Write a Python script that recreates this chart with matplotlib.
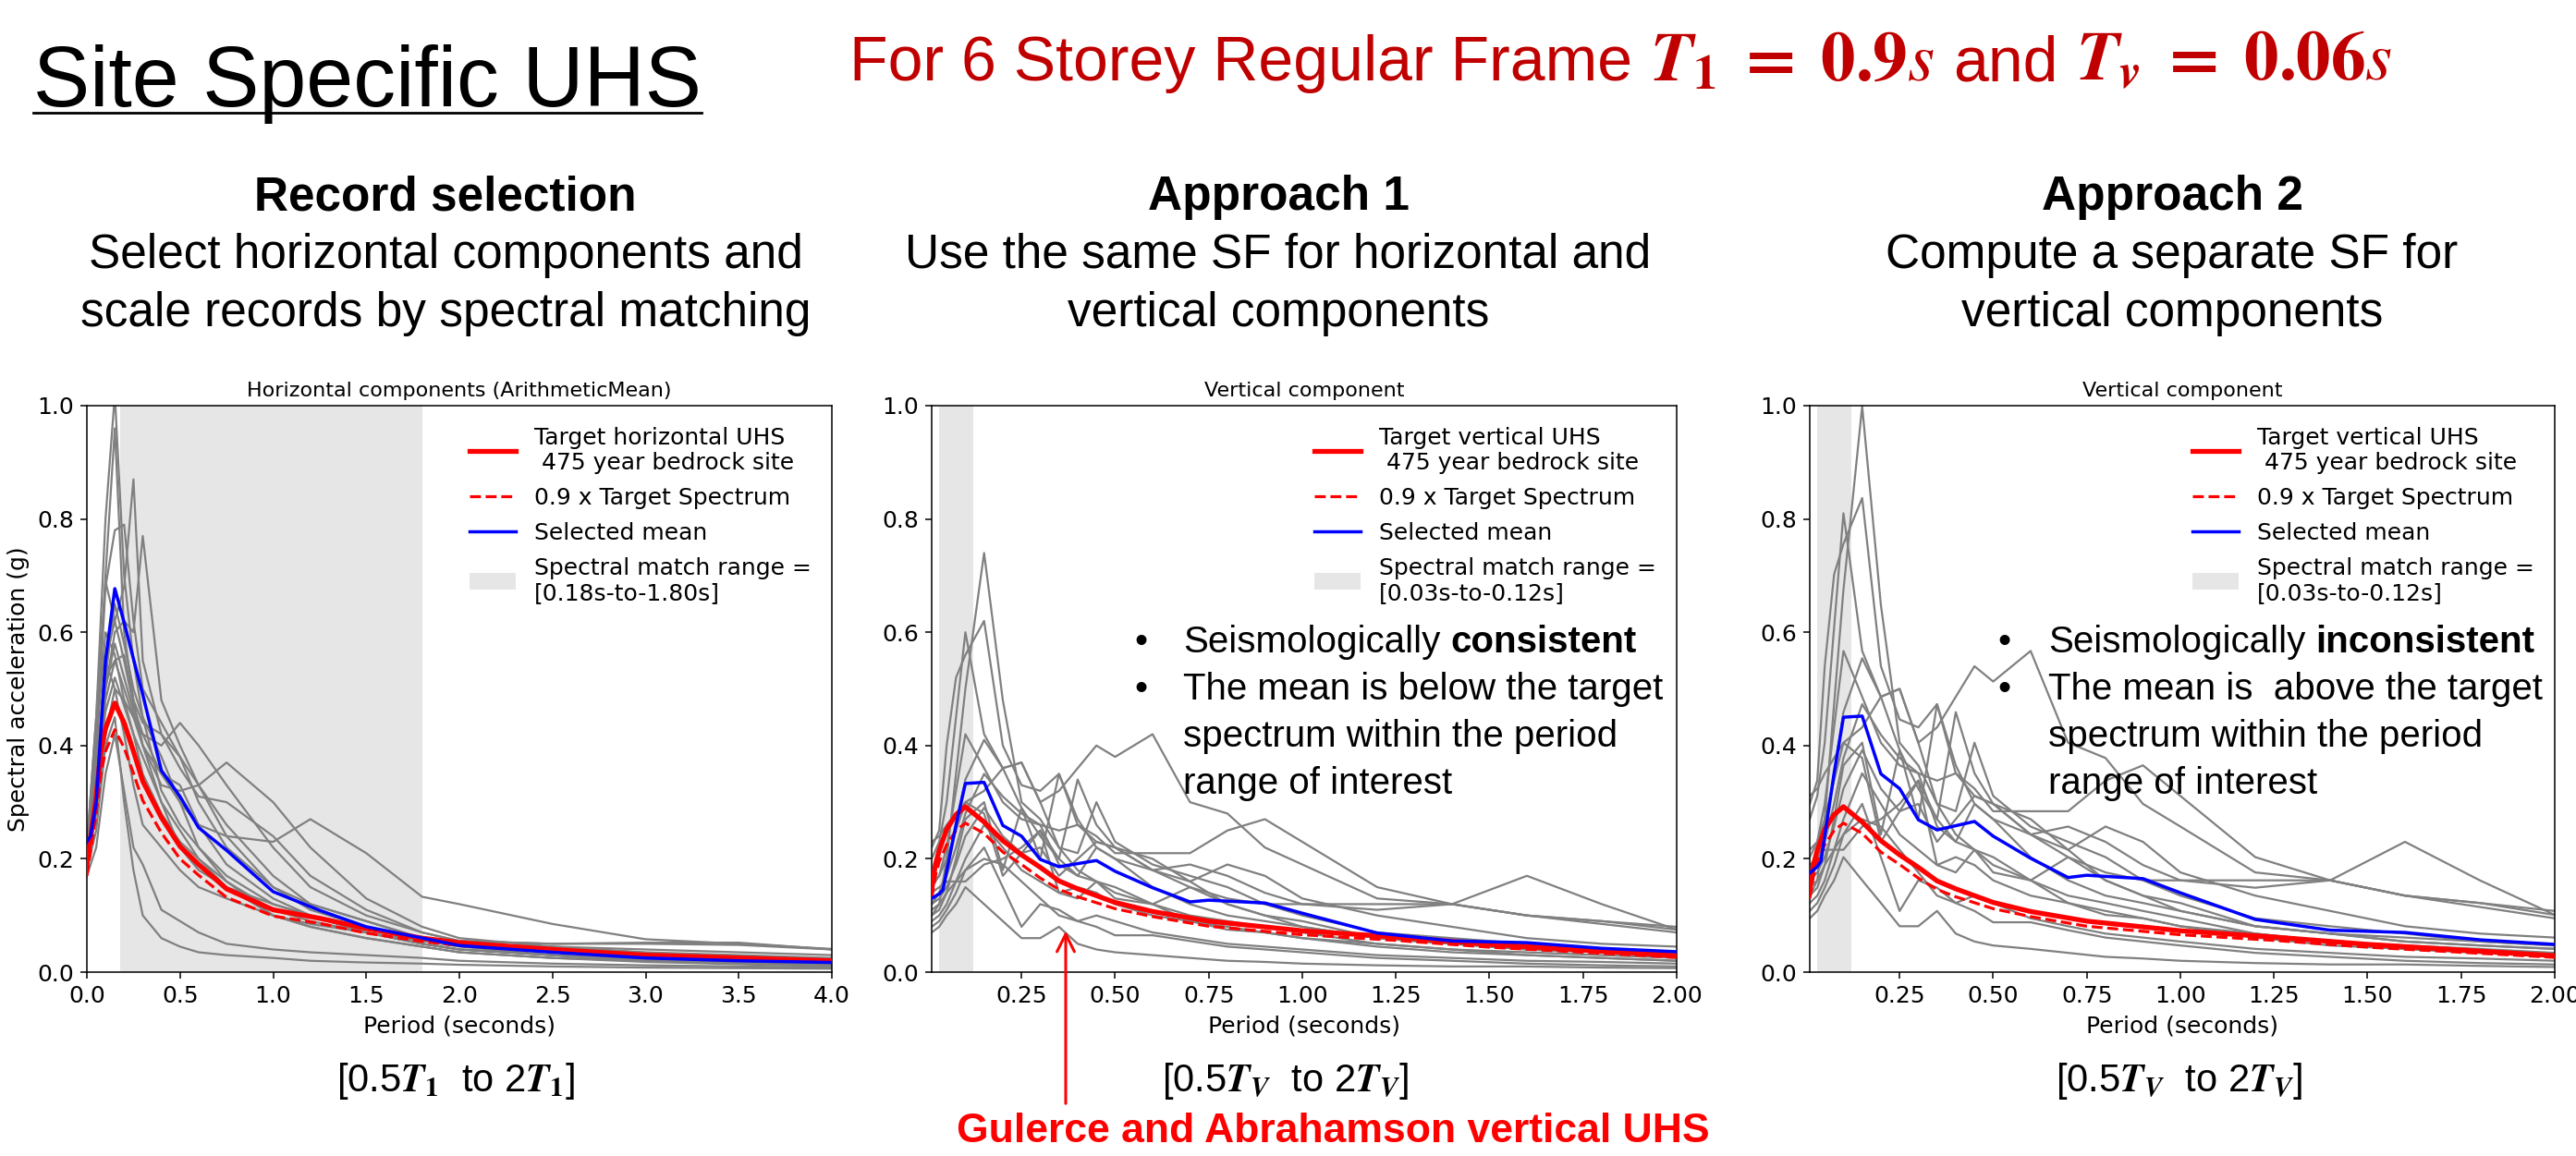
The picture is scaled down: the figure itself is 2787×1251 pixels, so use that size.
import matplotlib
matplotlib.use('Agg')
import matplotlib.pyplot as plt
from matplotlib.lines import Line2D
from matplotlib import mathtext

# ---------------- DATA ----------------
# Horizontal components (left panel)
TH = [0.0, 0.05, 0.1, 0.15, 0.2, 0.25, 0.3, 0.4, 0.5, 0.6, 0.75, 1.0, 1.2, 1.5, 1.8, 2.0, 2.5, 3.0, 3.5, 4.0]
H_RECORDS = [
    [0.22, 0.45, 0.80, 1.02, 0.70, 0.55, 0.45, 0.38, 0.30, 0.22, 0.17, 0.12, 0.10, 0.07, 0.05, 0.04, 0.03, 0.02, 0.016, 0.012],
    [0.20, 0.40, 0.70, 0.96, 0.60, 0.48, 0.40, 0.30, 0.25, 0.20, 0.15, 0.10, 0.08, 0.06, 0.045, 0.035, 0.025, 0.018, 0.014, 0.010],
    [0.21, 0.35, 0.55, 0.62, 0.68, 0.87, 0.55, 0.42, 0.38, 0.30, 0.22, 0.15, 0.11, 0.08, 0.055, 0.045, 0.03, 0.022, 0.017, 0.013],
    [0.19, 0.30, 0.50, 0.60, 0.62, 0.60, 0.77, 0.48, 0.40, 0.33, 0.26, 0.17, 0.12, 0.09, 0.06, 0.05, 0.035, 0.025, 0.02, 0.015],
    [0.20, 0.38, 0.68, 0.78, 0.79, 0.62, 0.50, 0.44, 0.38, 0.33, 0.24, 0.15, 0.12, 0.09, 0.06, 0.05, 0.035, 0.028, 0.022, 0.018],
    [0.22, 0.45, 0.69, 0.62, 0.55, 0.47, 0.42, 0.35, 0.33, 0.26, 0.19, 0.13, 0.10, 0.07, 0.05, 0.04, 0.03, 0.02, 0.015, 0.012],
    [0.18, 0.30, 0.48, 0.55, 0.50, 0.45, 0.42, 0.40, 0.44, 0.40, 0.33, 0.22, 0.15, 0.10, 0.07, 0.055, 0.04, 0.03, 0.025, 0.02],
    [0.20, 0.32, 0.50, 0.58, 0.52, 0.46, 0.40, 0.33, 0.32, 0.33, 0.37, 0.30, 0.22, 0.13, 0.08, 0.06, 0.045, 0.035, 0.03, 0.025],
    [0.19, 0.28, 0.42, 0.50, 0.48, 0.45, 0.40, 0.35, 0.30, 0.26, 0.24, 0.23, 0.27, 0.21, 0.133, 0.12, 0.085, 0.058, 0.05, 0.041],
    [0.21, 0.33, 0.52, 0.55, 0.56, 0.48, 0.44, 0.42, 0.36, 0.31, 0.30, 0.24, 0.17, 0.11, 0.07, 0.055, 0.05, 0.05, 0.048, 0.04],
    [0.18, 0.25, 0.40, 0.45, 0.30, 0.18, 0.10, 0.06, 0.045, 0.035, 0.03, 0.025, 0.02, 0.017, 0.015, 0.013, 0.01, 0.008, 0.007, 0.006],
    [0.17, 0.22, 0.35, 0.42, 0.32, 0.22, 0.19, 0.11, 0.09, 0.07, 0.05, 0.04, 0.035, 0.03, 0.025, 0.02, 0.015, 0.012, 0.01, 0.008],
    [0.20, 0.35, 0.55, 0.50, 0.42, 0.33, 0.26, 0.22, 0.18, 0.15, 0.13, 0.10, 0.085, 0.07, 0.055, 0.05, 0.045, 0.04, 0.035, 0.03],
    [0.22, 0.40, 0.60, 0.56, 0.48, 0.42, 0.38, 0.30, 0.22, 0.18, 0.15, 0.12, 0.10, 0.08, 0.06, 0.055, 0.05, 0.052, 0.052, 0.04],
    [0.19, 0.30, 0.52, 0.65, 0.58, 0.50, 0.45, 0.32, 0.26, 0.22, 0.16, 0.11, 0.09, 0.07, 0.05, 0.04, 0.03, 0.02, 0.015, 0.012],
    [0.21, 0.33, 0.46, 0.52, 0.47, 0.42, 0.35, 0.28, 0.23, 0.20, 0.16, 0.10, 0.08, 0.06, 0.045, 0.035, 0.025, 0.02, 0.016, 0.013],
]
TARGET_H_T = [0.0, 0.05, 0.075, 0.1, 0.15, 0.2, 0.25, 0.3, 0.4, 0.5, 0.6, 0.75, 1.0, 1.25, 1.5, 1.8, 2.0, 2.5, 3.0, 3.5, 4.0]
TARGET_H = [0.19, 0.31, 0.39, 0.43, 0.475, 0.44, 0.39, 0.337, 0.273, 0.222, 0.19, 0.147, 0.11, 0.095, 0.077, 0.06, 0.052, 0.04, 0.03, 0.025, 0.02]
TARGET_H_09 = [0.17, 0.28, 0.35, 0.39, 0.428, 0.396, 0.351, 0.303, 0.246, 0.20, 0.171, 0.132, 0.099, 0.086, 0.069, 0.054, 0.047, 0.036, 0.027, 0.022, 0.018]
MEAN_H_T = [0.0, 0.02, 0.05, 0.1, 0.15, 0.2, 0.25, 0.3, 0.4, 0.5, 0.6, 0.75, 1.0, 1.25, 1.5, 2.0, 2.5, 3.0, 3.5, 4.0]
MEAN_H = [0.23, 0.24, 0.30, 0.55, 0.677, 0.617, 0.553, 0.49, 0.356, 0.31, 0.255, 0.215, 0.142, 0.109, 0.08, 0.047, 0.035, 0.025, 0.02, 0.017]

# Vertical components (middle: Approach 1, right: Approach 2)
TV = [0.01, 0.03, 0.05, 0.075, 0.1, 0.15, 0.2, 0.25, 0.3, 0.35, 0.4, 0.45, 0.5, 0.6, 0.7, 0.8, 0.9, 1.0, 1.2, 1.4, 1.6, 1.8, 2.0]
V_RECORDS_A1 = [
    [0.10, 0.12, 0.20, 0.35, 0.50, 0.74, 0.48, 0.30, 0.27, 0.22, 0.18, 0.16, 0.14, 0.12, 0.09, 0.08, 0.07, 0.06, 0.05, 0.04, 0.035, 0.03, 0.025],
    [0.22, 0.25, 0.40, 0.52, 0.56, 0.62, 0.40, 0.33, 0.32, 0.35, 0.27, 0.22, 0.20, 0.15, 0.12, 0.10, 0.09, 0.08, 0.06, 0.05, 0.04, 0.035, 0.03],
    [0.20, 0.23, 0.30, 0.45, 0.60, 0.42, 0.36, 0.37, 0.30, 0.32, 0.36, 0.40, 0.38, 0.42, 0.30, 0.28, 0.22, 0.19, 0.13, 0.12, 0.10, 0.09, 0.075],
    [0.15, 0.17, 0.22, 0.32, 0.42, 0.36, 0.30, 0.27, 0.26, 0.25, 0.26, 0.24, 0.21, 0.21, 0.21, 0.25, 0.27, 0.23, 0.15, 0.12, 0.10, 0.085, 0.07],
    [0.12, 0.14, 0.18, 0.26, 0.34, 0.41, 0.36, 0.29, 0.24, 0.20, 0.34, 0.26, 0.22, 0.18, 0.15, 0.13, 0.12, 0.12, 0.12, 0.12, 0.17, 0.12, 0.075],
    [0.23, 0.24, 0.26, 0.28, 0.30, 0.32, 0.36, 0.37, 0.30, 0.22, 0.21, 0.30, 0.23, 0.19, 0.17, 0.15, 0.12, 0.10, 0.07, 0.06, 0.05, 0.04, 0.035],
    [0.10, 0.11, 0.14, 0.20, 0.27, 0.30, 0.18, 0.29, 0.20, 0.35, 0.26, 0.23, 0.22, 0.20, 0.16, 0.19, 0.17, 0.13, 0.10, 0.08, 0.06, 0.05, 0.045],
    [0.09, 0.10, 0.12, 0.16, 0.20, 0.26, 0.22, 0.18, 0.16, 0.14, 0.13, 0.16, 0.15, 0.12, 0.10, 0.09, 0.08, 0.07, 0.05, 0.04, 0.03, 0.025, 0.02],
    [0.14, 0.15, 0.16, 0.16, 0.16, 0.19, 0.20, 0.22, 0.25, 0.20, 0.17, 0.16, 0.13, 0.12, 0.15, 0.12, 0.10, 0.09, 0.06, 0.05, 0.04, 0.035, 0.03],
    [0.07, 0.08, 0.10, 0.12, 0.15, 0.12, 0.09, 0.06, 0.06, 0.08, 0.05, 0.04, 0.035, 0.03, 0.025, 0.02, 0.018, 0.015, 0.012, 0.01, 0.01, 0.008, 0.007],
    [0.11, 0.12, 0.14, 0.16, 0.18, 0.22, 0.15, 0.08, 0.12, 0.11, 0.09, 0.08, 0.065, 0.065, 0.055, 0.045, 0.04, 0.035, 0.025, 0.02, 0.015, 0.012, 0.01],
    [0.13, 0.14, 0.17, 0.22, 0.28, 0.35, 0.31, 0.28, 0.26, 0.19, 0.17, 0.22, 0.20, 0.18, 0.16, 0.12, 0.10, 0.08, 0.06, 0.05, 0.045, 0.04, 0.035],
    [0.16, 0.17, 0.20, 0.25, 0.30, 0.28, 0.17, 0.21, 0.25, 0.14, 0.15, 0.14, 0.12, 0.10, 0.09, 0.075, 0.07, 0.06, 0.045, 0.035, 0.03, 0.025, 0.02],
    [0.08, 0.09, 0.11, 0.14, 0.18, 0.20, 0.19, 0.16, 0.13, 0.10, 0.09, 0.10, 0.09, 0.07, 0.06, 0.05, 0.045, 0.04, 0.03, 0.025, 0.02, 0.018, 0.015],
    [0.12, 0.13, 0.15, 0.19, 0.24, 0.29, 0.24, 0.21, 0.22, 0.17, 0.20, 0.23, 0.22, 0.18, 0.19, 0.17, 0.14, 0.12, 0.11, 0.12, 0.10, 0.09, 0.08],
]
V_RECORDS_A2 = [
    [0.135, 0.162, 0.27, 0.473, 0.675, 0.999, 0.648, 0.405, 0.365, 0.297, 0.243, 0.216, 0.189, 0.162, 0.122, 0.108, 0.095, 0.081, 0.068, 0.054, 0.047, 0.041, 0.034],
    [0.297, 0.338, 0.54, 0.702, 0.756, 0.837, 0.54, 0.446, 0.432, 0.473, 0.365, 0.297, 0.27, 0.203, 0.162, 0.135, 0.122, 0.108, 0.081, 0.068, 0.054, 0.047, 0.041],
    [0.27, 0.311, 0.405, 0.608, 0.81, 0.567, 0.486, 0.50, 0.405, 0.432, 0.486, 0.54, 0.513, 0.567, 0.405, 0.378, 0.297, 0.257, 0.176, 0.162, 0.135, 0.122, 0.101],
    [0.203, 0.23, 0.297, 0.432, 0.567, 0.486, 0.405, 0.365, 0.351, 0.338, 0.351, 0.324, 0.284, 0.284, 0.284, 0.338, 0.365, 0.311, 0.203, 0.162, 0.135, 0.115, 0.095],
    [0.162, 0.189, 0.243, 0.351, 0.459, 0.554, 0.486, 0.392, 0.324, 0.27, 0.459, 0.351, 0.297, 0.243, 0.203, 0.176, 0.162, 0.162, 0.162, 0.162, 0.23, 0.162, 0.101],
    [0.311, 0.324, 0.351, 0.378, 0.405, 0.432, 0.486, 0.50, 0.405, 0.297, 0.284, 0.405, 0.311, 0.257, 0.23, 0.203, 0.162, 0.135, 0.095, 0.081, 0.068, 0.054, 0.047],
    [0.135, 0.149, 0.189, 0.27, 0.365, 0.405, 0.243, 0.392, 0.27, 0.473, 0.351, 0.311, 0.297, 0.27, 0.216, 0.257, 0.23, 0.176, 0.135, 0.108, 0.081, 0.068, 0.061],
    [0.122, 0.135, 0.162, 0.216, 0.27, 0.351, 0.297, 0.243, 0.216, 0.189, 0.176, 0.216, 0.203, 0.162, 0.135, 0.122, 0.108, 0.095, 0.068, 0.054, 0.041, 0.034, 0.027],
    [0.189, 0.203, 0.216, 0.216, 0.216, 0.257, 0.27, 0.297, 0.338, 0.27, 0.23, 0.216, 0.176, 0.162, 0.203, 0.162, 0.135, 0.122, 0.081, 0.068, 0.054, 0.047, 0.041],
    [0.095, 0.108, 0.135, 0.162, 0.203, 0.162, 0.122, 0.081, 0.081, 0.108, 0.068, 0.054, 0.047, 0.041, 0.034, 0.027, 0.024, 0.02, 0.016, 0.0135, 0.0135, 0.011, 0.009],
    [0.149, 0.162, 0.189, 0.216, 0.243, 0.297, 0.203, 0.108, 0.162, 0.149, 0.122, 0.108, 0.088, 0.088, 0.074, 0.061, 0.054, 0.047, 0.034, 0.027, 0.02, 0.016, 0.0135],
    [0.176, 0.189, 0.23, 0.297, 0.378, 0.473, 0.419, 0.378, 0.351, 0.257, 0.23, 0.297, 0.27, 0.243, 0.216, 0.162, 0.135, 0.108, 0.081, 0.068, 0.061, 0.054, 0.047],
    [0.216, 0.23, 0.27, 0.338, 0.405, 0.378, 0.23, 0.284, 0.338, 0.189, 0.203, 0.189, 0.162, 0.135, 0.122, 0.101, 0.095, 0.081, 0.061, 0.047, 0.041, 0.034, 0.027],
    [0.108, 0.122, 0.149, 0.189, 0.243, 0.27, 0.257, 0.216, 0.176, 0.135, 0.122, 0.135, 0.122, 0.095, 0.081, 0.068, 0.061, 0.054, 0.041, 0.034, 0.027, 0.024, 0.02],
    [0.162, 0.176, 0.203, 0.257, 0.324, 0.392, 0.324, 0.284, 0.297, 0.23, 0.27, 0.311, 0.297, 0.243, 0.257, 0.23, 0.189, 0.162, 0.149, 0.162, 0.135, 0.122, 0.108],
]
TARGET_V_T = [0.01, 0.02, 0.03, 0.05, 0.075, 0.1, 0.15, 0.2, 0.25, 0.3, 0.35, 0.4, 0.5, 0.6, 0.75, 1.0, 1.25, 1.5, 1.75, 2.0]
TARGET_V = [0.145, 0.19, 0.215, 0.252, 0.278, 0.292, 0.265, 0.232, 0.207, 0.185, 0.161, 0.147, 0.123, 0.107, 0.09, 0.073, 0.062, 0.049, 0.039, 0.029]
TARGET_V_09 = [0.13, 0.17, 0.195, 0.225, 0.25, 0.263, 0.245, 0.212, 0.19, 0.166, 0.146, 0.133, 0.112, 0.098, 0.081, 0.066, 0.056, 0.044, 0.035, 0.026]
MEAN_V_T = [0.01, 0.03, 0.04, 0.075, 0.1, 0.15, 0.2, 0.25, 0.3, 0.35, 0.45, 0.5, 0.6, 0.7, 0.75, 0.9, 1.0, 1.2, 1.4, 1.6, 1.8, 2.0]
MEAN_V_A1 = [0.13, 0.138, 0.145, 0.26, 0.333, 0.335, 0.259, 0.24, 0.199, 0.186, 0.197, 0.178, 0.149, 0.124, 0.127, 0.122, 0.104, 0.069, 0.055, 0.052, 0.042, 0.036]
MEAN_V_A2 = [0.175, 0.186, 0.196, 0.351, 0.45, 0.452, 0.35, 0.324, 0.269, 0.251, 0.266, 0.24, 0.201, 0.167, 0.171, 0.165, 0.14, 0.093, 0.074, 0.07, 0.057, 0.049]

H_SPAN = (0.18, 1.80)
V_SPAN = (0.03, 0.12)
H_XTICKS = [0.0, 0.5, 1.0, 1.5, 2.0, 2.5, 3.0, 3.5, 4.0]
V_XTICKS = [0.25, 0.5, 0.75, 1.0, 1.25, 1.5, 1.75, 2.0]
YTICKS = [0.0, 0.2, 0.4, 0.6, 0.8, 1.0]

# ---------------- FIGURE ----------------
W, H = 2787, 1251
plt.rcParams['font.family'] = ['DejaVu Sans']
plt.rcParams['mathtext.fontset'] = 'stix'
fig = plt.figure(figsize=(W / 100, H / 100), dpi=100)
fig.patch.set_facecolor('white')
R = fig.canvas.get_renderer()
INV = fig.transFigure.inverted()

TXT = ['Liberation Sans', 'DejaVu Sans']

def fx(x):
    return x / W

def fy(y):
    return 1 - y / H

def _ok(s):
    try:
        mathtext.MathTextParser('path').parse(s)
        return True
    except Exception:
        return False

BFIT = r'\mathbfit' if _ok(r'$\mathbfit{T}$') else (r'\boldsymbol' if _ok(r'$\boldsymbol{T}$') else r'\mathit')


def bT(sub):
    return BFIT + '{T}_{' + BFIT + '{' + sub + '}}'


def bT1():
    return BFIT + r'{T}_{\mathbf{1}}'


def panel(ax, recT, recs, tT, t, t09, mT, m, span, xlim, xticks, title, tlabel, slabel, ylabel=None):
    sp = ax.axvspan(span[0], span[1], color='#e6e6e6', lw=0, zorder=0, label=slabel)
    for r in recs:
        ax.plot(recT, r, color='#808080', lw=1.6, zorder=1)
    l1, = ax.plot(tT, t, color='red', lw=3.8, zorder=3, label=tlabel)
    l2, = ax.plot(tT, t09, color='red', lw=2.3, ls='--', zorder=3, label='0.9 x Target Spectrum')
    l3, = ax.plot(mT, m, color='blue', lw=2.5, zorder=4, label='Selected mean')
    ax.set_xlim(*xlim)
    ax.set_ylim(0, 1)
    ax.set_xticks(xticks)
    ax.set_yticks(YTICKS)
    ax.tick_params(labelsize=18, length=5, width=1.1, pad=5)
    for s in ax.spines.values():
        s.set_linewidth(1.1)
    ax.set_title(title, fontsize=16, pad=7)
    ax.set_xlabel('Period (seconds)', fontsize=18, labelpad=6)
    if ylabel:
        ax.set_ylabel(ylabel, fontsize=18, labelpad=6)
    ax.legend(handles=[l1, l2, l3, sp], loc='upper right', frameon=False, fontsize=18,
              handlelength=2.0, labelspacing=0.55)


AX_Y0, AX_H = 1052, 613
ax1 = fig.add_axes([fx(94), fy(AX_Y0), 806 / W, AX_H / H])
ax2 = fig.add_axes([fx(1008), fy(AX_Y0), 806 / W, AX_H / H])
ax3 = fig.add_axes([fx(1958), fy(AX_Y0), 806 / W, AX_H / H])

panel(ax1, TH, H_RECORDS, TARGET_H_T, TARGET_H, TARGET_H_09, MEAN_H_T, MEAN_H, H_SPAN, (0, 4), H_XTICKS,
      'Horizontal components (ArithmeticMean)', 'Target horizontal UHS\n 475 year bedrock site',
      'Spectral match range =\n[0.18s-to-1.80s]', ylabel='Spectral acceleration (g)')
panel(ax2, TV, V_RECORDS_A1, TARGET_V_T, TARGET_V, TARGET_V_09, MEAN_V_T, MEAN_V_A1, V_SPAN, (0.01, 2.0), V_XTICKS,
      'Vertical component', 'Target vertical UHS\n 475 year bedrock site',
      'Spectral match range =\n[0.03s-to-0.12s]')
panel(ax3, TV, V_RECORDS_A2, TARGET_V_T, TARGET_V, TARGET_V_09, MEAN_V_T, MEAN_V_A2, V_SPAN, (0.01, 2.0), V_XTICKS,
      'Vertical component', 'Target vertical UHS\n 475 year bedrock site',
      'Spectral match range =\n[0.03s-to-0.12s]')


def run_text(x_px, y_px, segments, color='black', gap_em=0.278):
    """Place text segments one after another on a common baseline."""
    x = x_px
    for s, size, kw in segments:
        t = fig.text(fx(x), fy(y_px), s, fontsize=size, family=TXT, color=color, ha='left', va='baseline', **kw)
        bb = t.get_window_extent(R)
        x = bb.x1 + gap_em * size * 100 / 72
    return x


# ---------------- TEXT ----------------
t_site = fig.text(fx(36), fy(115), 'Site Specific UHS', fontsize=66, family=TXT, va='baseline', ha='left')
run_text(919, 87, [
    ('For 6 Storey Regular Frame', 49, {}),
    ('$' + bT1() + r'\;\mathbf{=}\;\mathbf{0.9}s$', 54, {}),
    ('and', 49, {}),
    ('$' + bT('v') + r'\;\mathbf{=}\;\mathbf{0.06}s$', 54, {}),
], color='#C00000')

heads = [
    (482, 'Record selection', ['Select horizontal components and', 'scale records by spectral matching']),
    (1383, 'Approach 1', ['Use the same SF for horizontal and', 'vertical components']),
    (2350, 'Approach 2', ['Compute a separate SF for', 'vertical components']),
]
for cx, h, lines in heads:
    fig.text(fx(cx), fy(227), h, fontsize=37, family=TXT, weight='bold', ha='center', va='baseline')
    for i, ln in enumerate(lines):
        fig.text(fx(cx), fy(290 + 63 * i), ln, fontsize=37, family=TXT, ha='center', va='baseline')

BSZ = 29
bul = [
    (1227, 1280, [('Seismologically', 'consistent'), ('The mean is below the target', None),
                  ('spectrum within the period', None), ('range of interest', None)]),
    (2161, 2216, [('Seismologically', 'inconsistent'), ('The mean is  above the target', None),
                  ('spectrum within the period', None), ('range of interest', None)]),
]
for bx, tx, rows in bul:
    for i, (txt, bold) in enumerate(rows):
        y = 706 + 51 * i
        if i < 2:
            fig.text(fx(bx), fy(y), '\u2022', fontsize=BSZ, family=TXT, ha='left', va='baseline')
        segs = [(txt, BSZ, {})]
        if bold:
            segs.append((bold, BSZ, {'weight': 'bold'}))
        run_text(tx, y, segs)

bottoms = [(493, '1'), (1391, 'V'), (2358, 'V')]
for cx, sub in bottoms:
    tt = bT1() if sub == '1' else bT(sub)
    fig.text(fx(cx), fy(1170), '[0.5$' + tt + '$  to 2$' + tt + '$]',
             fontsize=30, family=TXT, ha='center', va='center')

fig.text(fx(1442), fy(1224), 'Gulerce and Abrahamson vertical UHS', fontsize=32, family=TXT,
         weight='bold', color='#FF0000', ha='center', va='center')

ax2.annotate('', xy=(0.368, 0.077), xycoords='data', xytext=(fx(1153), fy(1197)), textcoords='figure fraction',
             arrowprops=dict(arrowstyle='->', color='red', lw=2.2, mutation_scale=34), annotation_clip=False)

# underline of the main title
bb = t_site.get_window_extent(R)
fig.add_artist(Line2D([fx(bb.x0), fx(bb.x1)], [fy(122), fy(122)], transform=fig.transFigure, color='black', lw=2.0))

fig.savefig('out.png', dpi=100, facecolor='white')
